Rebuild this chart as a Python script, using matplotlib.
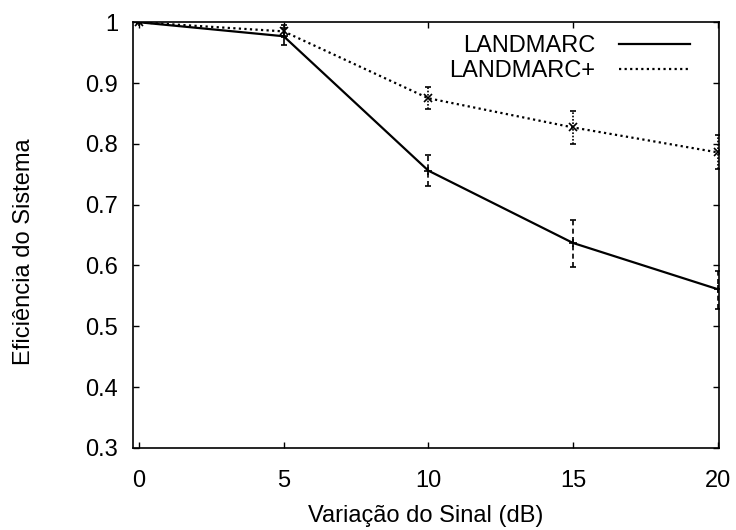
import matplotlib
matplotlib.use("Agg")
import matplotlib.pyplot as plt
from matplotlib.lines import Line2D

plt.rcParams['font.family'] = ['Liberation Sans', 'DejaVu Sans']

# dados
variacao = [0, 5, 10, 15, 20]
landmarc = [1.0, 0.977, 0.756, 0.637, 0.561]
landmarc_inf = [0.998, 0.962, 0.730, 0.598, 0.528]
landmarc_sup = [1.0, 0.990, 0.781, 0.675, 0.591]
landmarc_mais = [1.0, 0.985, 0.875, 0.827, 0.786]
landmarc_mais_inf = [0.998, 0.975, 0.857, 0.800, 0.758]
landmarc_mais_sup = [1.0, 0.995, 0.893, 0.854, 0.814]
y_ticks = [0.3, 0.4, 0.5, 0.6, 0.7, 0.8, 0.9, 1.0]
y_labels = ["0.3", "0.4", "0.5", "0.6", "0.7", "0.8", "0.9", "1"]
x_ticks = [0, 5, 10, 15, 20]

fig = plt.figure(figsize=(7.36, 5.3), dpi=100)
ax = fig.add_axes([0.181, 0.155, 0.796, 0.803])


def serie(y, inf, sup, marker, ls, ebls):
    err = [[a - b for a, b in zip(y, inf)], [b - a for a, b in zip(y, sup)]]
    ax.plot(variacao, y, color="black", lw=1.6, ls=ls)
    ax.plot(variacao, y, color="black", lw=0, marker=marker, ms=6, mew=1.2)
    _, caps, bars = ax.errorbar(variacao, y, yerr=err, fmt="none", ecolor="black",
                                elinewidth=1.2, capsize=2, capthick=1.2)
    for b in bars:
        b.set_linestyle(ebls)


serie(landmarc, landmarc_inf, landmarc_sup, "+", "-", (0, (3, 2)))
serie(landmarc_mais, landmarc_mais_inf, landmarc_mais_sup, "x", (0, (1, 1.5)), (0, (1, 1)))

ax.set_xlim(-0.2, 20.05)
ax.set_ylim(0.3, 1.0)
ax.set_xticks(x_ticks)
ax.set_xticklabels([str(v) for v in x_ticks])
ax.set_yticks(y_ticks)
ax.set_yticklabels(y_labels)
ax.tick_params(direction="in", top=True, right=True, length=4.5, width=1,
               labelsize=17)
ax.tick_params(axis="x", pad=16)
ax.tick_params(axis="y", pad=11)
for s in ax.spines.values():
    s.set_linewidth(1.2)

ax.set_xlabel("Variação do Sinal (dB)", fontsize=17, va="top")
ax.xaxis.set_label_coords(0.5, -0.135)
ax.set_ylabel("Eficiência do Sistema", fontsize=17)
ax.yaxis.set_label_coords(-0.168, 0.46)

handles = [Line2D([], [], color="black", lw=1.6, ls="-"),
           Line2D([], [], color="black", lw=1.6, ls=(0, (1, 1.5)))]
ax.legend(handles, ["LANDMARC", "LANDMARC+"], loc="upper right", frameon=False,
          markerfirst=False, fontsize=17, handlelength=3.0, labelspacing=0.1,
          borderaxespad=0.0, borderpad=0.2, handletextpad=1.0,
          bbox_to_anchor=(0.958, 0.98))

fig.savefig("out.png", dpi=100)
